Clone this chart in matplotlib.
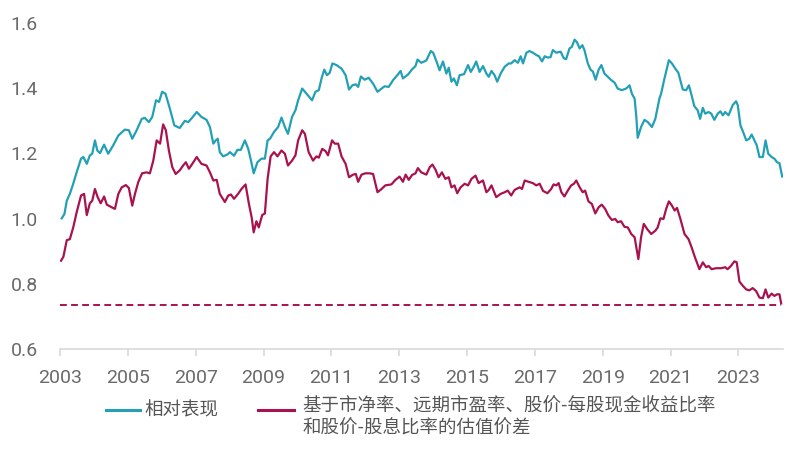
import matplotlib
matplotlib.use("Agg")
import matplotlib.pyplot as plt
from matplotlib.lines import Line2D

# relative performance (teal line)
perf_dates = [
    2003.05, 2003.13, 2003.20, 2003.29, 2003.39, 2003.49, 2003.62, 2003.69, 2003.79, 2003.88,
    2003.95, 2004.03, 2004.10, 2004.18, 2004.30, 2004.42, 2004.57, 2004.72, 2004.91, 2005.03,
    2005.13, 2005.26, 2005.41, 2005.50, 2005.62, 2005.72, 2005.83, 2005.92, 2006.01, 2006.11,
    2006.24, 2006.37, 2006.53, 2006.68, 2006.78, 2006.90, 2007.03, 2007.17, 2007.32, 2007.42,
    2007.52, 2007.59, 2007.65, 2007.71, 2007.81, 2007.94, 2008.01, 2008.13, 2008.23, 2008.33,
    2008.45, 2008.55, 2008.63, 2008.71, 2008.82, 2008.94, 2009.04, 2009.12, 2009.19, 2009.31,
    2009.43, 2009.53, 2009.63, 2009.72, 2009.84, 2009.94, 2010.02, 2010.14, 2010.27, 2010.43,
    2010.53, 2010.63, 2010.71, 2010.79, 2010.87, 2010.95, 2011.03, 2011.15, 2011.30, 2011.42,
    2011.52, 2011.62, 2011.72, 2011.79, 2011.87, 2011.98, 2012.10, 2012.23, 2012.36, 2012.48,
    2012.57, 2012.69, 2012.82, 2012.96, 2013.04, 2013.11, 2013.26, 2013.38, 2013.48, 2013.54,
    2013.65, 2013.80, 2013.93, 2014.00, 2014.10, 2014.19, 2014.29, 2014.39, 2014.46, 2014.54,
    2014.61, 2014.70, 2014.78, 2014.91, 2015.03, 2015.11, 2015.20, 2015.27, 2015.37, 2015.47,
    2015.57, 2015.64, 2015.72, 2015.81, 2015.89, 2015.99, 2016.11, 2016.23, 2016.30, 2016.40,
    2016.50, 2016.58, 2016.65, 2016.75, 2016.84, 2016.94, 2017.04, 2017.12, 2017.21, 2017.29,
    2017.38, 2017.46, 2017.53, 2017.63, 2017.76, 2017.85, 2017.92, 2018.02, 2018.09, 2018.17,
    2018.24, 2018.32, 2018.40, 2018.46, 2018.56, 2018.64, 2018.71, 2018.79, 2018.88, 2018.96,
    2019.05, 2019.15, 2019.25, 2019.35, 2019.44, 2019.56, 2019.69, 2019.79, 2019.86, 2019.94,
    2019.99, 2020.03, 2020.13, 2020.23, 2020.33, 2020.45, 2020.55, 2020.67, 2020.72, 2020.82,
    2020.95, 2021.04, 2021.14, 2021.23, 2021.36, 2021.46, 2021.54, 2021.62, 2021.70, 2021.80,
    2021.87, 2021.95, 2022.02, 2022.12, 2022.20, 2022.29, 2022.39, 2022.47, 2022.54, 2022.61,
    2022.71, 2022.83, 2022.93, 2022.98, 2023.06, 2023.16, 2023.23, 2023.32, 2023.39, 2023.47,
    2023.54, 2023.62, 2023.72, 2023.80, 2023.88, 2023.98, 2024.06, 2024.14, 2024.21, 2024.29,
]
perf_values = [
    1.001, 1.014, 1.055, 1.076, 1.107, 1.142, 1.184, 1.189, 1.168, 1.194,
    1.199, 1.240, 1.209, 1.201, 1.227, 1.199, 1.225, 1.255, 1.273, 1.271,
    1.245, 1.271, 1.306, 1.309, 1.296, 1.312, 1.363, 1.358, 1.389, 1.383,
    1.337, 1.286, 1.278, 1.300, 1.296, 1.310, 1.327, 1.312, 1.303, 1.281,
    1.230, 1.240, 1.245, 1.204, 1.191, 1.197, 1.204, 1.193, 1.211, 1.211,
    1.240, 1.214, 1.178, 1.139, 1.173, 1.184, 1.184, 1.240, 1.245, 1.266,
    1.281, 1.310, 1.281, 1.260, 1.312, 1.332, 1.363, 1.399, 1.383, 1.363,
    1.389, 1.394, 1.430, 1.457, 1.440, 1.447, 1.476, 1.471, 1.460, 1.440,
    1.396, 1.409, 1.412, 1.404, 1.436, 1.426, 1.432, 1.414, 1.389, 1.399,
    1.406, 1.404, 1.425, 1.442, 1.453, 1.430, 1.442, 1.458, 1.468, 1.488,
    1.478, 1.485, 1.514, 1.509, 1.482, 1.455, 1.482, 1.445, 1.463, 1.420,
    1.430, 1.409, 1.440, 1.443, 1.471, 1.450, 1.466, 1.482, 1.450, 1.468,
    1.445, 1.435, 1.453, 1.440, 1.420, 1.445, 1.466, 1.476, 1.476, 1.486,
    1.478, 1.498, 1.476, 1.509, 1.514, 1.509, 1.502, 1.498, 1.482, 1.498,
    1.494, 1.495, 1.517, 1.509, 1.512, 1.492, 1.489, 1.522, 1.527, 1.549,
    1.541, 1.522, 1.532, 1.517, 1.476, 1.457, 1.451, 1.426, 1.457, 1.471,
    1.445, 1.435, 1.425, 1.417, 1.399, 1.394, 1.399, 1.409, 1.383, 1.368,
    1.312, 1.248, 1.281, 1.303, 1.296, 1.281, 1.306, 1.368, 1.383, 1.430,
    1.486, 1.476, 1.460, 1.447, 1.396, 1.394, 1.409, 1.378, 1.345, 1.332,
    1.306, 1.340, 1.322, 1.327, 1.322, 1.303, 1.322, 1.329, 1.317, 1.327,
    1.317, 1.348, 1.360, 1.348, 1.286, 1.260, 1.240, 1.245, 1.258, 1.240,
    1.225, 1.189, 1.189, 1.240, 1.199, 1.189, 1.184, 1.173, 1.170, 1.129,
]

# valuation spread (crimson line)
spread_dates = [
    2003.03, 2003.10, 2003.20, 2003.29, 2003.39, 2003.49, 2003.62, 2003.71, 2003.79, 2003.88,
    2003.95, 2004.03, 2004.11, 2004.20, 2004.30, 2004.38, 2004.52, 2004.62, 2004.72, 2004.82,
    2004.94, 2005.03, 2005.13, 2005.21, 2005.31, 2005.42, 2005.55, 2005.65, 2005.75, 2005.85,
    2005.95, 2006.04, 2006.12, 2006.21, 2006.31, 2006.41, 2006.53, 2006.63, 2006.71, 2006.80,
    2006.90, 2007.03, 2007.17, 2007.32, 2007.42, 2007.52, 2007.62, 2007.71, 2007.86, 2007.96,
    2008.04, 2008.13, 2008.25, 2008.35, 2008.47, 2008.57, 2008.65, 2008.71, 2008.79, 2008.86,
    2008.96, 2009.04, 2009.12, 2009.21, 2009.31, 2009.41, 2009.53, 2009.63, 2009.72, 2009.84,
    2009.94, 2010.02, 2010.14, 2010.22, 2010.33, 2010.46, 2010.56, 2010.63, 2010.73, 2010.83,
    2010.90, 2011.02, 2011.10, 2011.20, 2011.30, 2011.42, 2011.52, 2011.64, 2011.72, 2011.79,
    2011.89, 2012.00, 2012.13, 2012.23, 2012.36, 2012.48, 2012.59, 2012.77, 2012.89, 2013.01,
    2013.11, 2013.19, 2013.28, 2013.38, 2013.48, 2013.55, 2013.65, 2013.80, 2013.90, 2013.98,
    2014.07, 2014.16, 2014.26, 2014.36, 2014.46, 2014.54, 2014.63, 2014.71, 2014.81, 2014.93,
    2015.03, 2015.13, 2015.25, 2015.34, 2015.47, 2015.57, 2015.64, 2015.72, 2015.86, 2015.99,
    2016.11, 2016.20, 2016.30, 2016.40, 2016.55, 2016.62, 2016.70, 2016.81, 2016.94, 2017.04,
    2017.14, 2017.24, 2017.37, 2017.48, 2017.55, 2017.63, 2017.70, 2017.78, 2017.87, 2017.97,
    2018.07, 2018.15, 2018.22, 2018.32, 2018.41, 2018.48, 2018.58, 2018.68, 2018.78, 2018.88,
    2018.97, 2019.07, 2019.17, 2019.27, 2019.37, 2019.44, 2019.54, 2019.64, 2019.74, 2019.84,
    2019.94, 2019.99, 2020.05, 2020.13, 2020.21, 2020.31, 2020.43, 2020.55, 2020.62, 2020.70,
    2020.79, 2020.87, 2020.95, 2021.04, 2021.12, 2021.19, 2021.29, 2021.41, 2021.53, 2021.62,
    2021.72, 2021.85, 2021.95, 2022.05, 2022.12, 2022.21, 2022.34, 2022.49, 2022.61, 2022.68,
    2022.78, 2022.88, 2022.95, 2023.03, 2023.13, 2023.23, 2023.32, 2023.42, 2023.52, 2023.62,
    2023.72, 2023.80, 2023.88, 2023.98, 2024.06, 2024.14, 2024.21, 2024.26,
]
spread_values = [
    0.871, 0.883, 0.934, 0.937, 0.973, 1.019, 1.071, 1.076, 1.011, 1.047,
    1.055, 1.091, 1.066, 1.047, 1.068, 1.043, 1.035, 1.030, 1.076, 1.096,
    1.103, 1.094, 1.040, 1.076, 1.113, 1.139, 1.142, 1.139, 1.178, 1.240,
    1.230, 1.289, 1.271, 1.209, 1.158, 1.137, 1.148, 1.163, 1.173, 1.153,
    1.168, 1.189, 1.168, 1.163, 1.142, 1.117, 1.119, 1.076, 1.051, 1.071,
    1.074, 1.061, 1.076, 1.091, 1.105, 1.045, 1.004, 0.958, 0.992, 0.973,
    1.011, 1.016, 1.122, 1.191, 1.204, 1.191, 1.209, 1.199, 1.163, 1.178,
    1.194, 1.240, 1.271, 1.260, 1.204, 1.178, 1.191, 1.187, 1.214, 1.207,
    1.194, 1.240, 1.230, 1.230, 1.191, 1.168, 1.127, 1.135, 1.137, 1.113,
    1.135, 1.139, 1.139, 1.137, 1.081, 1.091, 1.102, 1.105, 1.119, 1.129,
    1.113, 1.135, 1.119, 1.134, 1.139, 1.155, 1.142, 1.135, 1.158, 1.166,
    1.150, 1.127, 1.142, 1.122, 1.127, 1.096, 1.102, 1.078, 1.096, 1.107,
    1.102, 1.122, 1.132, 1.109, 1.117, 1.081, 1.088, 1.102, 1.066, 1.076,
    1.081, 1.086, 1.071, 1.088, 1.096, 1.091, 1.117, 1.113, 1.109, 1.102,
    1.107, 1.085, 1.078, 1.091, 1.105, 1.102, 1.109, 1.081, 1.068, 1.086,
    1.102, 1.107, 1.117, 1.096, 1.081, 1.086, 1.053, 1.045, 1.016, 1.035,
    1.043, 1.030, 1.009, 0.996, 0.999, 0.989, 0.992, 0.975, 0.973, 0.953,
    0.943, 0.912, 0.876, 0.943, 0.984, 0.968, 0.953, 0.963, 0.973, 1.001,
    0.999, 1.030, 1.053, 1.040, 1.025, 1.033, 0.999, 0.953, 0.937, 0.912,
    0.881, 0.845, 0.866, 0.851, 0.855, 0.845, 0.848, 0.848, 0.851, 0.845,
    0.855, 0.869, 0.866, 0.807, 0.794, 0.783, 0.780, 0.787, 0.778, 0.758,
    0.756, 0.783, 0.758, 0.770, 0.763, 0.768, 0.768, 0.740,
]

spread_level = 0.735
year_ticks = list(range(2003, 2024, 2))
value_ticks = [0.6, 0.8, 1.0, 1.2, 1.4, 1.6]

perf_label = "相对表现"
spread_label = "基于市净率、远期市盈率、股价-每股现金收益比率\n和股价-股息比率的估值价差"

teal = "#23a0b5"
crimson = "#a8134f"
grey_text = "#6a6a6a"

fig = plt.figure(figsize=(8, 4.51), dpi=100)
ax = fig.add_axes([0.075, 0.226, 0.904, 0.723])

ax.plot(perf_dates, perf_values, color=teal, lw=1.6, solid_joinstyle="round")
ax.plot(spread_dates, spread_values, color=crimson, lw=1.6, solid_joinstyle="round")
ax.hlines(spread_level, year_ticks[0], spread_dates[-1], colors=crimson, lw=1.4,
          linestyles=(0, (3.5, 2.2)))

ax.set_xlim(2003, 2024.32)
ax.set_ylim(0.6, 1.6)
ax.set_xticks(year_ticks)
ax.set_yticks(value_ticks)
ax.set_yticklabels([f"{v:.1f}" for v in value_ticks])

for s in ["top", "right", "left"]:
    ax.spines[s].set_visible(False)
ax.spines["bottom"].set_color("#d9d9d9")
ax.spines["bottom"].set_linewidth(1.2)
ax.tick_params(axis="x", length=5, width=1.2, color="#d9d9d9", pad=9,
               labelsize=14, labelcolor=grey_text)
ax.tick_params(axis="y", length=0, pad=16, labelsize=14, labelcolor=grey_text)
for lab in ax.get_xticklabels() + ax.get_yticklabels():
    lab.set_family(["Roboto", "DejaVu Sans"])

# legend below the plot
cjk = ["Noto Sans CJK SC", "DejaVu Sans"]
fig.add_artist(Line2D([0.132, 0.175], [0.091, 0.091], color=teal, lw=2.2))
fig.text(0.181, 0.091, perf_label, family=cjk, fontsize=13.3, color="#555555", va="center")
fig.add_artist(Line2D([0.323, 0.368], [0.091, 0.091], color=crimson, lw=2.2))
fig.text(0.378, 0.12, spread_label, family=cjk, fontsize=13.3, color="#555555",
         va="top", linespacing=1.3)

fig.savefig("out.png", dpi=100, facecolor="white")
